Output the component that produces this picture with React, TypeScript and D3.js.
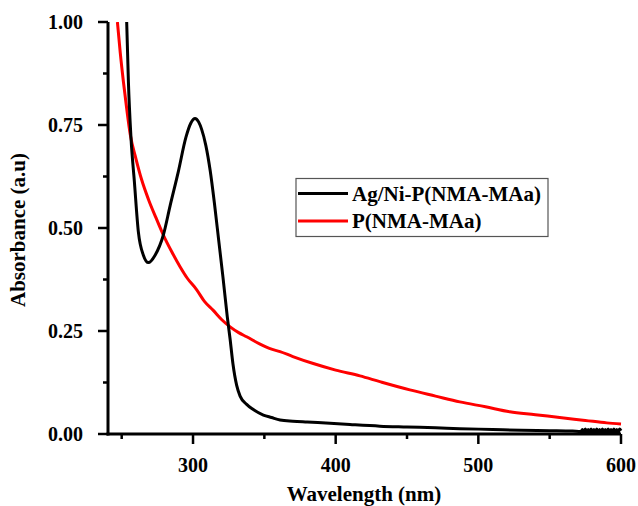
import React from "react";
import * as d3 from "d3";

// ---- Data ----
const agNiWavelength = [252, 253.5, 254.7, 256.5, 258.9, 261.7, 265.2, 268.7, 273.4, 279.2, 284, 289.7, 295, 298.5, 301.4, 304, 306, 309, 312, 315, 318, 321, 324, 326, 328, 330.6, 333, 337.6, 342, 349.3, 355, 361, 370, 380, 396, 410, 431, 450, 470, 487, 510, 530, 550, 566, 572, 573, 574, 575, 576, 577, 578, 579, 580, 581, 582, 583, 584, 585, 586, 587, 588, 589, 590, 591, 592, 593, 594, 595, 596, 597, 598, 599, 600];
const agNiAbs = [1.1, 1.0, 0.855, 0.72, 0.612, 0.49, 0.434, 0.416, 0.434, 0.483, 0.555, 0.637, 0.72, 0.755, 0.766, 0.757, 0.74, 0.70, 0.64, 0.56, 0.47, 0.38, 0.285, 0.23, 0.17, 0.118, 0.092, 0.072, 0.06, 0.046, 0.04, 0.034, 0.031, 0.029, 0.026, 0.023, 0.019, 0.017, 0.015, 0.013, 0.011, 0.009, 0.008, 0.007, 0.006, 0.011, 0.002, 0.012, 0.003, 0.011, 0.002, 0.012, 0.002, 0.011, 0.003, 0.012, 0.002, 0.011, 0.002, 0.012, 0.003, 0.011, 0.002, 0.012, 0.002, 0.011, 0.003, 0.012, 0.002, 0.011, 0.002, 0.012, 0.008];

const pWavelength = [247, 249, 251.2, 253.5, 256, 260, 264, 268.7, 274, 279.2, 285, 290.9, 296, 302.6, 308, 314.2, 320, 326, 332, 337.6, 347, 354, 361, 370, 384.3, 400, 417, 431, 452, 470, 487, 505, 522, 540, 557, 575, 590, 600];
const pAbs = [1.0, 0.925, 0.855, 0.79, 0.727, 0.668, 0.617, 0.57, 0.525, 0.483, 0.443, 0.406, 0.378, 0.35, 0.322, 0.3, 0.278, 0.26, 0.246, 0.236, 0.218, 0.207, 0.2, 0.188, 0.171, 0.155, 0.141, 0.127, 0.107, 0.092, 0.078, 0.066, 0.054, 0.047, 0.04, 0.033, 0.027, 0.024];

const xMajorTicks = [300, 400, 500, 600];
const xMinorTicks = [250, 350, 450, 550];
const yMajorTicks = [0, 0.25, 0.5, 0.75, 1.0];
const yMinorTicks = [0.125, 0.375, 0.625, 0.875];

const seriesNames = ["Ag/Ni-P(NMA-MAa)", "P(NMA-MAa)"];
const seriesColors = ["#000000", "#ff0000"];

const W = 638;
const H = 506;
const left = 108;
const right = 621;
const top = 22;
const bottom = 434;

const font = '"Liberation Serif", "DejaVu Serif", "Times New Roman", serif';

export default function App() {
  const x = d3.scaleLinear().domain([240.4, 600]).range([left, right]);
  const y = d3.scaleLinear().domain([0, 1]).range([bottom, top]);

  const line = d3
    .line<[number, number]>()
    .x((d) => x(d[0]))
    .y((d) => y(d[1]))
    .curve(d3.curveMonotoneX);

  const blackPts: [number, number][] = agNiWavelength.map((w, i) => [w, agNiAbs[i]]);
  const redPts: [number, number][] = pWavelength.map((w, i) => [w, pAbs[i]]);

  const ts = { fontFamily: font, fontWeight: 700 as const };

  return (
    <svg
      width={W}
      height={H}
      style={{ position: "absolute", left: 0, top: 0, background: "#fff" }}
    >
      <defs>
        <clipPath id="plot">
          <rect x={left} y={top} width={right - left + 2} height={bottom - top} />
        </clipPath>
      </defs>
      <rect x={0} y={0} width={W} height={H} fill="#fff" />

      <g clipPath="url(#plot)">
        <path d={line(redPts) || ""} fill="none" stroke={seriesColors[1]} strokeWidth={3} />
        <path d={line(blackPts) || ""} fill="none" stroke={seriesColors[0]} strokeWidth={3} />
      </g>

      {/* axes */}
      <line x1={left} x2={left} y1={top} y2={bottom + 1.5} stroke="#000" strokeWidth={3} />
      <line x1={left - 1.5} x2={right} y1={bottom} y2={bottom} stroke="#000" strokeWidth={3} />

      {yMajorTicks.map((t) => (
        <g key={"ym" + t}>
          <line x1={left - 10} x2={left} y1={y(t)} y2={y(t)} stroke="#000" strokeWidth={2.5} />
          <text x={left - 25} y={y(t) + 7} textAnchor="end" fontSize={20} style={ts}>
            {t.toFixed(2)}
          </text>
        </g>
      ))}
      {yMinorTicks.map((t) => (
        <line key={"yn" + t} x1={left - 5} x2={left} y1={y(t)} y2={y(t)} stroke="#000" strokeWidth={2.5} />
      ))}
      {xMajorTicks.map((t) => (
        <g key={"xm" + t}>
          <line x1={x(t)} x2={x(t)} y1={bottom} y2={bottom + 10} stroke="#000" strokeWidth={2.5} />
          <text x={x(t)} y={472} textAnchor="middle" fontSize={20} style={ts}>
            {t}
          </text>
        </g>
      ))}
      {xMinorTicks.map((t) => (
        <line key={"xn" + t} x1={x(t)} x2={x(t)} y1={bottom} y2={bottom + 5} stroke="#000" strokeWidth={2.5} />
      ))}

      <text x={364} y={501} textAnchor="middle" fontSize={21} style={ts}>
        Wavelength (nm)
      </text>
      <text transform="translate(25,230) rotate(-90)" textAnchor="middle" fontSize={21} style={ts}>
        Absorbance (a.u)
      </text>

      {/* legend */}
      <rect x={296} y={178.5} width={252} height={58} fill="#fff" stroke="#555" strokeWidth={1.2} />
      {seriesNames.map((name, i) => (
        <g key={name}>
          <line x1={298} x2={348} y1={193.5 + i * 27.5} y2={193.5 + i * 27.5} stroke={seriesColors[i]} strokeWidth={3} />
          <text x={352} y={200.5 + i * 27.5} fontSize={21} style={ts}>
            {name}
          </text>
        </g>
      ))}
    </svg>
  );
}
